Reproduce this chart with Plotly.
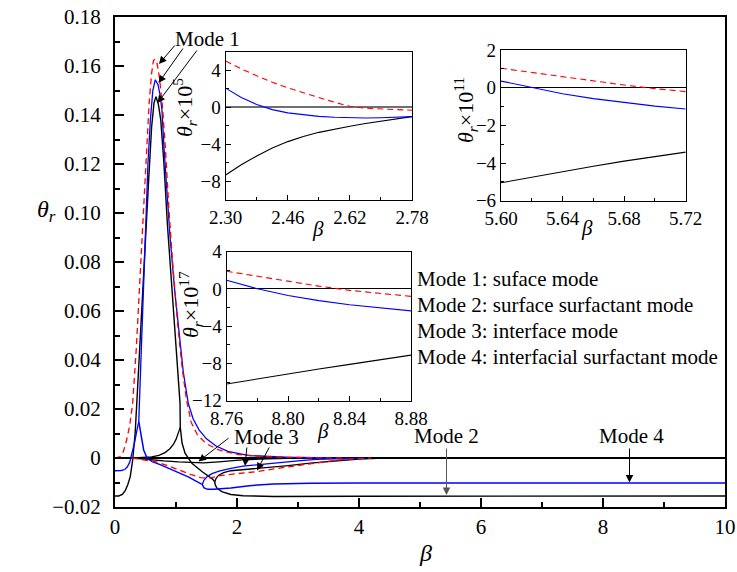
import plotly.graph_objects as go

# ---------------- main panel data (theta_r vs beta) ----------------
black_a_beta = [0, 0.06, 0.12, 0.17, 0.21, 0.25, 0.29, 0.33, 0.36, 0.42, 0.48, 0.54, 0.60, 0.64, 0.672,
                0.71, 0.75, 0.80, 0.86, 0.93, 1.00, 1.04, 1.066, 1.07, 1.085, 1.10, 1.15, 1.26, 1.43,
                1.54, 1.60, 1.635, 1.645, 1.67, 1.75, 1.9, 2.1, 2.6, 4.0, 10.0]
black_a_theta = [-0.0155, -0.0155, -0.0149, -0.0132, -0.0108, -0.0076, -0.0008, 0.0101, 0.0237, 0.050,
                 0.080, 0.108, 0.135, 0.145, 0.1475, 0.1445, 0.138, 0.121, 0.095, 0.070, 0.046, 0.032,
                 0.0224, 0.0125, 0.009, 0.006, 0.0019, -0.0022, -0.0056, -0.0076, -0.0086, -0.0097,
                 -0.011, -0.0123, -0.0137, -0.0149, -0.0154, -0.0157, -0.0156, -0.0155]
black_up_beta = [1.635, 1.66, 1.70, 1.78, 1.9, 2.3, 2.8, 3.2, 3.6, 4.0, 4.4]
black_up_theta = [-0.0097, -0.0082, -0.007, -0.006, -0.0052, -0.0044, -0.0032, -0.0021, -0.0011, -0.0004, 0.0]
black_cusp_beta = [0.30, 0.45, 0.60, 0.72, 0.82, 0.90, 0.96, 1.00, 1.04, 1.07]
black_cusp_theta = [0.0, 0.0002, 0.0005, 0.0011, 0.0022, 0.0038, 0.0057, 0.0076, 0.0104, 0.0125]
black_m3_beta = [0.30, 0.45, 0.61, 0.80, 1.04, 1.30, 1.45, 1.70, 2.08, 2.5, 3.0]
black_m3_theta = [0.0, -0.0004, -0.0008, -0.0012, -0.0016, -0.0019, -0.002, -0.0016, -0.0008, -0.0003, 0.0]

blue_a_beta = [0, 0.10, 0.16, 0.20, 0.24, 0.28, 0.32, 0.36, 0.39, 0.40, 0.44, 0.47, 0.50, 0.54, 0.58,
               0.62, 0.66, 0.705, 0.743, 0.77, 0.80, 0.85, 0.90, 0.98, 1.05, 1.12, 1.20, 1.28, 1.38,
               1.50, 1.65, 1.85, 2.2, 2.8, 3.5]
blue_a_theta = [-0.0052, -0.0051, -0.0047, -0.0037, -0.0018, 0.0019, 0.0062, 0.0114, 0.0148, 0.0224,
                0.050, 0.075, 0.097, 0.120, 0.138, 0.150, 0.1544, 0.1524, 0.1476, 0.142, 0.128, 0.108,
                0.091, 0.068, 0.050, 0.035, 0.0224, 0.016, 0.0114, 0.0078, 0.005, 0.0027, 0.001,
                0.0003, 0.0]
blue_b_beta = [0.39, 0.415, 0.44, 0.47, 0.525, 0.61, 0.75, 0.88, 1.05, 1.21, 1.32, 1.40, 1.43, 1.46,
               1.52, 1.62, 1.75, 1.9, 2.2, 2.6, 3.2, 4.0, 10.0]
blue_b_theta = [0.0148, 0.0114, 0.0065, 0.0033, 0.0, -0.0015, -0.0028, -0.0042, -0.006, -0.0078,
                -0.0093, -0.0104, -0.0108, -0.0122, -0.0128, -0.0128, -0.0126, -0.0122, -0.0113,
                -0.0106, -0.0103, -0.0102, -0.0102]
blue_up_beta = [1.43, 1.46, 1.52, 1.60, 1.72, 1.9, 2.1, 2.4, 2.7, 3.0, 3.3, 3.7, 4.1]
blue_up_theta = [-0.0108, -0.009, -0.0074, -0.0063, -0.0053, -0.0042, -0.0033, -0.0025, -0.0018,
                 -0.0012, -0.0006, -0.0002, 0.0]

red_a_beta = [0, 0.08, 0.137, 0.19, 0.24, 0.29, 0.35, 0.41, 0.46, 0.51, 0.56, 0.60, 0.63, 0.655,
              0.69, 0.73, 0.78, 0.83, 0.88, 0.95, 1.03, 1.10, 1.17, 1.25, 1.35, 1.5, 1.7, 2.0, 2.5,
              3.2, 3.8]
red_a_theta = [0.0, 0.0005, 0.0026, 0.0073, 0.013, 0.0224, 0.045, 0.075, 0.100, 0.125, 0.145, 0.157,
               0.1622, 0.1628, 0.161, 0.155, 0.143, 0.125, 0.103, 0.078, 0.054, 0.037, 0.024, 0.0145,
               0.0095, 0.0058, 0.0033, 0.0015, 0.0005, 0.0001, 0.0]
red_b_beta = [0.28, 0.40, 0.55, 0.66, 0.85, 1.04, 1.25, 1.40, 1.50, 1.60, 1.72, 2.0, 2.32, 2.65, 2.98,
              3.3, 3.6, 3.9, 4.2]
red_b_theta = [0.0, -0.0005, -0.001, -0.0015, -0.003, -0.0049, -0.0068, -0.008, -0.0082, -0.0079,
               -0.0072, -0.0064, -0.0056, -0.0043, -0.0031, -0.0019, -0.001, -0.0004, 0.0]

main_y_ticks = [-0.02, 0, 0.02, 0.04, 0.06, 0.08, 0.10, 0.12, 0.14, 0.16, 0.18]
main_y_labels = ["\u22120.02", "0", "0.02", "0.04", "0.06", "0.08", "0.10", "0.12", "0.14", "0.16", "0.18"]
main_x_ticks = [0, 2, 4, 6, 8, 10]

# ---------------- inset 1 (theta_r x 1e5) ----------------
in1_beta = [2.30, 2.34, 2.38, 2.42, 2.46, 2.50, 2.54, 2.58, 2.62, 2.66, 2.70, 2.74, 2.78]
in1_red = [5.0, 4.15, 3.4, 2.7, 2.1, 1.55, 1.05, 0.55, 0.1, -0.1, -0.2, -0.27, -0.32]
in1_blue = [2.07, 1.05, 0.3, -0.25, -0.6, -0.82, -0.98, -1.08, -1.13, -1.15, -1.12, -1.07, -1.0]
in1_black = [-7.3, -6.2, -5.25, -4.4, -3.7, -3.15, -2.7, -2.35, -2.05, -1.75, -1.5, -1.25, -1.0]
in1_xticks = [2.30, 2.46, 2.62, 2.78]

# ---------------- inset 2 (theta_r x 1e11) ----------------
in2_beta = [5.60, 5.62, 5.64, 5.66, 5.68, 5.70, 5.72]
in2_red = [1.03, 0.80, 0.57, 0.35, 0.14, -0.05, -0.21]
in2_blue = [0.35, 0.0, -0.32, -0.58, -0.8, -0.98, -1.13]
in2_black = [-5.05, -4.75, -4.45, -4.17, -3.9, -3.65, -3.42]
in2_xticks = [5.60, 5.64, 5.68, 5.72]

# ---------------- inset 3 (theta_r x 1e17) ----------------
in3_beta = [8.76, 8.78, 8.80, 8.82, 8.84, 8.86, 8.88]
in3_red = [1.9, 1.35, 0.82, 0.3, -0.15, -0.5, -0.8]
in3_blue = [0.93, 0.02, -0.7, -1.25, -1.7, -2.05, -2.35]
in3_black = [-10.2, -9.65, -9.1, -8.6, -8.1, -7.6, -7.1]
in3_xticks = [8.76, 8.80, 8.84, 8.88]

legend_lines = ["Mode 1: suface mode", "Mode 2: surface surfactant mode",
                "Mode 3: interface mode", "Mode 4: interfacial surfactant mode"]

FONT = "Liberation Serif"
RED, BLUE, BLACK = "#ff0000", "#0000ff", "#000000"
DASH = "6px,4px"

fig = go.Figure()

def add(x, y, color, dash=None, width=1.3, xa="x", ya="y"):
    fig.add_trace(go.Scatter(x=x, y=y, mode="lines", xaxis=xa, yaxis=ya, hoverinfo="skip",
                             line=dict(color=color, width=width, dash=dash)))

# main
add(black_m3_beta, black_m3_theta, BLACK)
add(black_cusp_beta, black_cusp_theta, BLACK)
add(black_up_beta, black_up_theta, BLACK)
add(black_a_beta, black_a_theta, BLACK, width=1.4)
add(blue_up_beta, blue_up_theta, BLUE)
add(blue_b_beta, blue_b_theta, BLUE, width=1.5)
add(blue_a_beta, blue_a_theta, BLUE)
add(red_b_beta, red_b_theta, RED, DASH)
add(red_a_beta, red_a_theta, RED, DASH)

# insets
for xa, ya, b, r, bl, k in [("x2", "y2", in1_beta, in1_red, in1_blue, in1_black),
                            ("x3", "y3", in2_beta, in2_red, in2_blue, in2_black),
                            ("x4", "y4", in3_beta, in3_red, in3_blue, in3_black)]:
    add(b, k, BLACK, width=1.1, xa=xa, ya=ya)
    add(b, bl, BLUE, width=1.1, xa=xa, ya=ya)
    add(b, r, RED, DASH, width=1.1, xa=xa, ya=ya)

L, R, T, B = 115, 725, 17, 507
W, H = 737, 572

def px(xp):
    return (xp - L) / (R - L)

def py(yp):
    return (B - yp) / (B - T)

tickfont = dict(family=FONT, size=21, color="black")
insfont = dict(family=FONT, size=19, color="black")

main_ax = dict(showline=True, linecolor="black", linewidth=2, mirror=True, ticks="inside",
               ticklen=9, tickwidth=1.5, tickcolor="black", showgrid=False, zeroline=False,
               tickfont=tickfont, automargin=False)

fig.update_layout(
    width=W, height=H, margin=dict(l=L, r=W - R, t=T, b=H - B, autoexpand=False),
    font=dict(family=FONT, color="black", size=21),
    paper_bgcolor="white", plot_bgcolor="white", showlegend=False,
    xaxis=dict(main_ax, range=[0, 10], domain=[0, 1], tickmode="array", tickvals=main_x_ticks,
               ticklabelstandoff=0,
               minor=dict(ticks="inside", ticklen=5, tickwidth=1.5, tickcolor="black",
                          tick0=0, dtick=1)),
    yaxis=dict(main_ax, range=[-0.02, 0.18], domain=[0, 1], tickmode="array",
               tickvals=main_y_ticks, ticktext=main_y_labels, ticklabelstandoff=8,
               zeroline=True, zerolinecolor="black", zerolinewidth=2,
               minor=dict(ticks="inside", ticklen=5, tickwidth=1.5, tickcolor="black",
                          tick0=0, dtick=0.01)),
)

def inset_axes(xr, yr, xdom, ydom, xticks, xminor, ydtick, yminor, zc, zw):
    base = dict(showline=True, linecolor="black", linewidth=1.2, mirror=True, ticks="inside",
                ticklen=5, tickwidth=1, tickcolor="black", showgrid=False, tickfont=insfont,
                automargin=False)
    xa = dict(base, range=xr, domain=xdom, tickmode="array", tickvals=xticks, tickformat=".2f",
              zeroline=False,
              minor=dict(ticks="inside", ticklen=3, tickcolor="black", tick0=xticks[0], dtick=xminor))
    ya = dict(base, range=yr, domain=ydom, tickmode="linear", tick0=0, dtick=ydtick,
              zeroline=True, zerolinecolor=zc, zerolinewidth=zw,
              minor=dict(ticks="inside", ticklen=3, tickcolor="black", tick0=0, dtick=yminor))
    return xa, ya

x2, y2 = inset_axes([2.30, 2.78], [-10, 6], [px(225.7), px(412)], [py(200), py(51.7)],
                    in1_xticks, 0.08, 4, 2, "#707070", 2)
x3, y3 = inset_axes([5.60, 5.72], [-6, 2], [px(501), px(685.7)], [py(200.7), py(50)],
                    in2_xticks, 0.02, 2, 1, "black", 1.2)
x4, y4 = inset_axes([8.76, 8.88], [-12, 4], [px(226.7), px(411)], [py(400.7), py(251.7)],
                    in3_xticks, 0.02, 4, 2, "black", 1.2)
x2["anchor"], y2["anchor"] = "y2", "x2"
x3["anchor"], y3["anchor"] = "y3", "x3"
x4["anchor"], y4["anchor"] = "y4", "x4"
fig.update_layout(xaxis2=x2, yaxis2=y2, xaxis3=x3, yaxis3=y3, xaxis4=x4, yaxis4=y4)

ann = []

def text(xp, yp, s, size=21, angle=0, xanchor="center"):
    ann.append(dict(xref="paper", yref="paper", x=px(xp), y=py(yp), text=s, showarrow=False,
                    font=dict(family=FONT, size=size, color="black"), textangle=angle,
                    xanchor=xanchor, yanchor="middle"))

def arrow(tail, tip, s="", color="black"):
    ann.append(dict(xref="paper", yref="paper", x=px(tip[0]), y=py(tip[1]), text=s,
                    showarrow=True, ax=tail[0] - tip[0], ay=tail[1] - tip[1],
                    arrowhead=2, arrowsize=1.5, arrowwidth=1, arrowcolor=color,
                    font=dict(family=FONT, size=21, color="black")))

# axis titles
text(46, 211, "<i>θ</i><sub><i>r</i></sub>", size=24)
text(425, 553, "<i>β</i>", size=24)
text(184, 108, "<i>θ</i><sub><i>r</i></sub>×10<sup>5</sup>", size=22, angle=-90)
text(318, 229, "<i>β</i>", size=21)
text(465, 110, "<i>θ</i><sub><i>r</i></sub>×10<sup>11</sup>", size=22, angle=-90)
text(587, 228, "<i>β</i>", size=21)
text(190, 305, "<i>θ</i><sub><i>r</i></sub>×10<sup>17</sup>", size=22, angle=-90)
text(323, 431, "<i>β</i>", size=21)

# mode labels and arrows
text(207, 39, "Mode 1")
arrow((176, 44), (159, 64))
arrow((184, 47), (158.5, 83))
arrow((198, 49), (157.5, 103))

text(266, 437, "Mode 3")
arrow((230, 437), (198.5, 461.5))
arrow((247, 446), (245, 466))
arrow((270, 446), (257, 470.5))

text(446, 436, "Mode 2")
arrow((446.5, 447), (446.5, 495), color="#555555")
text(631, 436, "Mode 4")
arrow((629.5, 447), (629.5, 482.5))

for i, s in enumerate(legend_lines):
    text(415, 279 + 26 * i, s, size=21, xanchor="left")

fig.update_layout(annotations=ann)
fig.write_html("out.html")
